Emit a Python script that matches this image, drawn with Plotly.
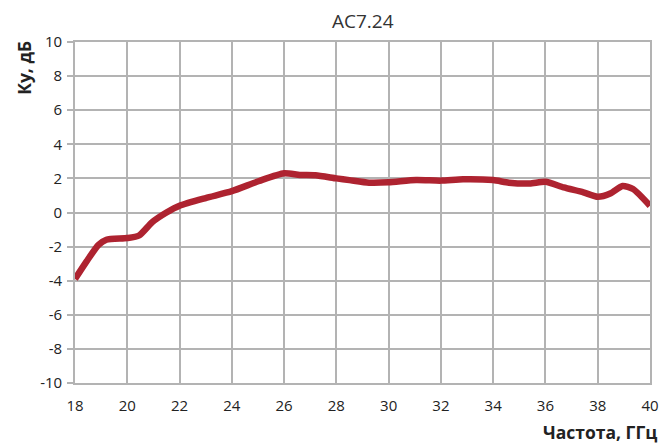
import plotly.graph_objects as go

# Gain vs frequency for AC7.24
freq_ghz = [18.0, 18.45, 18.9, 19.2, 20.0, 20.45, 20.95, 21.5, 22.0, 23.0, 24.0,
            25.05, 26.0, 26.6, 27.2, 28.0, 28.5, 29.25, 30.0, 31.05, 32.0, 32.85,
            34.0, 34.6, 35.4, 36.0, 36.7, 37.45, 38.0, 38.5, 38.95, 39.35, 40.0]
gain_db = [-3.9, -2.85, -1.9, -1.6, -1.5, -1.35, -0.57, 0.0, 0.4, 0.85, 1.25,
           1.85, 2.3, 2.2, 2.18, 2.0, 1.9, 1.75, 1.77, 1.9, 1.87, 1.95,
           1.9, 1.75, 1.7, 1.8, 1.47, 1.18, 0.92, 1.13, 1.55, 1.38, 0.4]

x_ticks = list(range(18, 41, 2))
y_ticks = list(range(-10, 11, 2))

font_family = "Open Sans, Noto Sans, sans-serif"
grid_color = "#b3b3b3"

fig = go.Figure()
fig.add_trace(go.Scatter(
    x=freq_ghz, y=gain_db, mode="lines",
    line=dict(color="#ae2330", width=6.5, shape="spline", smoothing=0.6),
    hoverinfo="x+y", showlegend=False,
))

fig.update_layout(
    width=662, height=445,
    margin=dict(l=75, r=12, t=42, b=62, autoexpand=False),
    paper_bgcolor="white", plot_bgcolor="white",
    font=dict(family=font_family, color="#333333", size=14),
    title=dict(text="AC7.24", x=0.548, xanchor="center", y=0.953, yanchor="middle",
               font=dict(size=19, color="#333333", family=font_family)),
    xaxis=dict(range=[18, 40], tickvals=x_ticks, ticktext=[str(v) for v in x_ticks],
               showgrid=True, gridcolor=grid_color, gridwidth=1.6,
               showline=True, linecolor=grid_color, linewidth=1.6, mirror=True,
               zeroline=False, ticks="", ticklabelstandoff=8, automargin=False,
               tickfont=dict(size=15, color="#222222")),
    yaxis=dict(range=[-10, 10], tickvals=y_ticks, ticktext=[str(v) for v in y_ticks],
               showgrid=True, gridcolor=grid_color, gridwidth=1.6,
               showline=True, linecolor=grid_color, linewidth=1.6, mirror=True,
               zeroline=False, ticks="outside", ticklen=6, tickcolor=grid_color,
               tickwidth=1.6, ticklabelstandoff=2, automargin=False,
               tickfont=dict(size=15, color="#222222")),
    annotations=[
        dict(text="<b>Ку, дБ</b>", xref="paper", yref="paper", x=-0.09, y=1.01,
             xanchor="center", yanchor="top", textangle=-90, showarrow=False,
             font=dict(size=17.5, color="#222222", family=font_family)),
        dict(text="<b>Частота, ГГц</b>", xref="paper", yref="paper", x=1.016, y=-0.145,
             xanchor="right", yanchor="middle", showarrow=False,
             font=dict(size=17.5, color="#222222", family=font_family)),
    ],
)

fig.write_html("out.html")
